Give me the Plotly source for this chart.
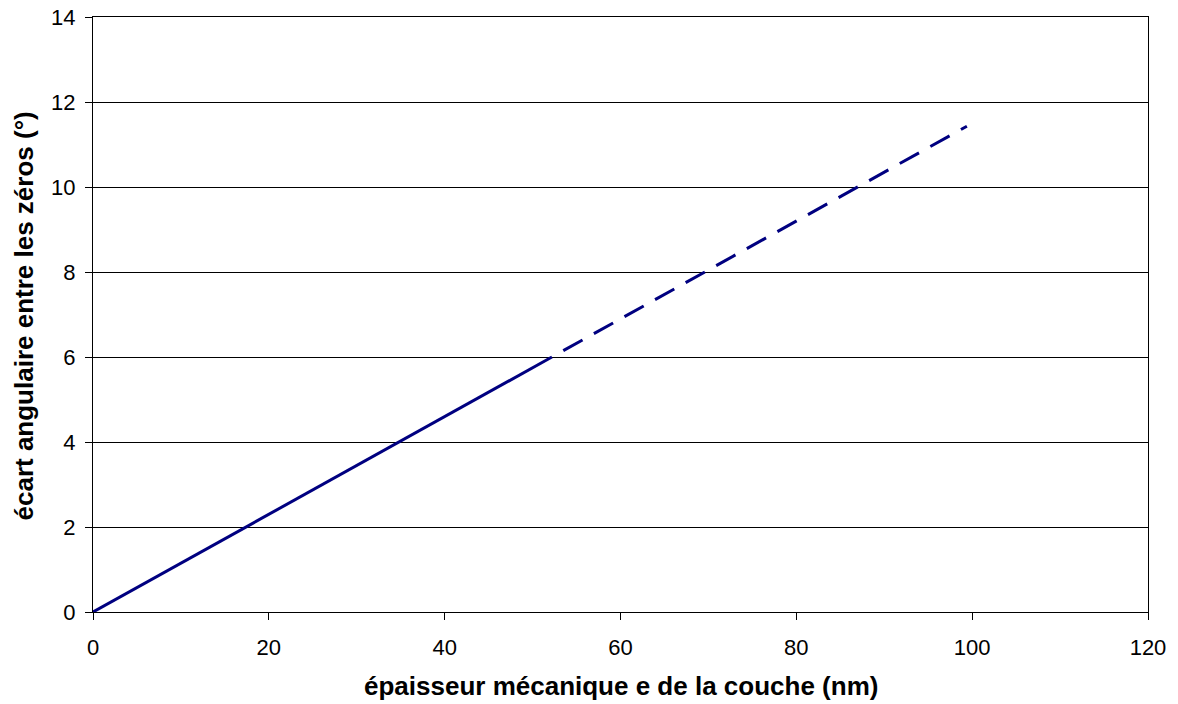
import plotly.graph_objects as go

solid_x = [0, 52.2]
solid_y = [0, 6.0]
dash_x = [52.2, 99.4]
dash_y = [6.0, 11.43]

x_ticks = [0, 20, 40, 60, 80, 100, 120]
y_ticks = [0, 2, 4, 6, 8, 10, 12, 14]

x_title = "épaisseur mécanique e de la couche (nm)"
y_title = "écart angulaire entre les zéros (°)"

fig = go.Figure()
fig.add_trace(go.Scatter(x=solid_x, y=solid_y, mode="lines",
                         line=dict(color="#000080", width=3), showlegend=False))
fig.add_trace(go.Scatter(x=dash_x, y=dash_y, mode="lines",
                         line=dict(color="#000080", width=3, dash="0px,13px,22px,0px"),
                         showlegend=False))

fig.update_layout(
    width=1178, height=704,
    margin=dict(l=93, r=30, t=17, b=92, autoexpand=False),
    paper_bgcolor="white", plot_bgcolor="white",
    font=dict(family="Liberation Sans, Arial, sans-serif", size=22, color="black"),
    xaxis=dict(range=[0, 120], tickvals=x_ticks, showgrid=False, zeroline=False,
               showline=True, linecolor="black", linewidth=1, mirror=True,
               ticks="outside", ticklen=7, tickcolor="black", automargin=False,
               ticklabelstandoff=9, ticklabeloverflow="allow"),
    yaxis=dict(range=[0, 14], tickvals=y_ticks, showgrid=True, gridcolor="black", gridwidth=1,
               zeroline=False, showline=True, linecolor="black", linewidth=1, mirror=True,
               ticks="outside", ticklen=7, tickcolor="black", automargin=False,
               ticklabelstandoff=5, ticklabeloverflow="allow"),
)

fig.add_annotation(text="<b>" + x_title + "</b>", xref="paper", yref="paper",
                   x=0.5, y=0, xanchor="center", yanchor="middle", yshift=-74,
                   showarrow=False, font=dict(size=26))
fig.add_annotation(text="<b>" + y_title + "</b>", xref="paper", yref="paper",
                   x=0, y=0.5, xanchor="center", yanchor="middle", xshift=-70, yshift=-2,
                   textangle=-90, showarrow=False, font=dict(size=26))

fig.write_html("out.html", config=dict(displayModeBar=False),
               post_script="document.body.style.margin='0px'; document.body.style.overflow='hidden';")
